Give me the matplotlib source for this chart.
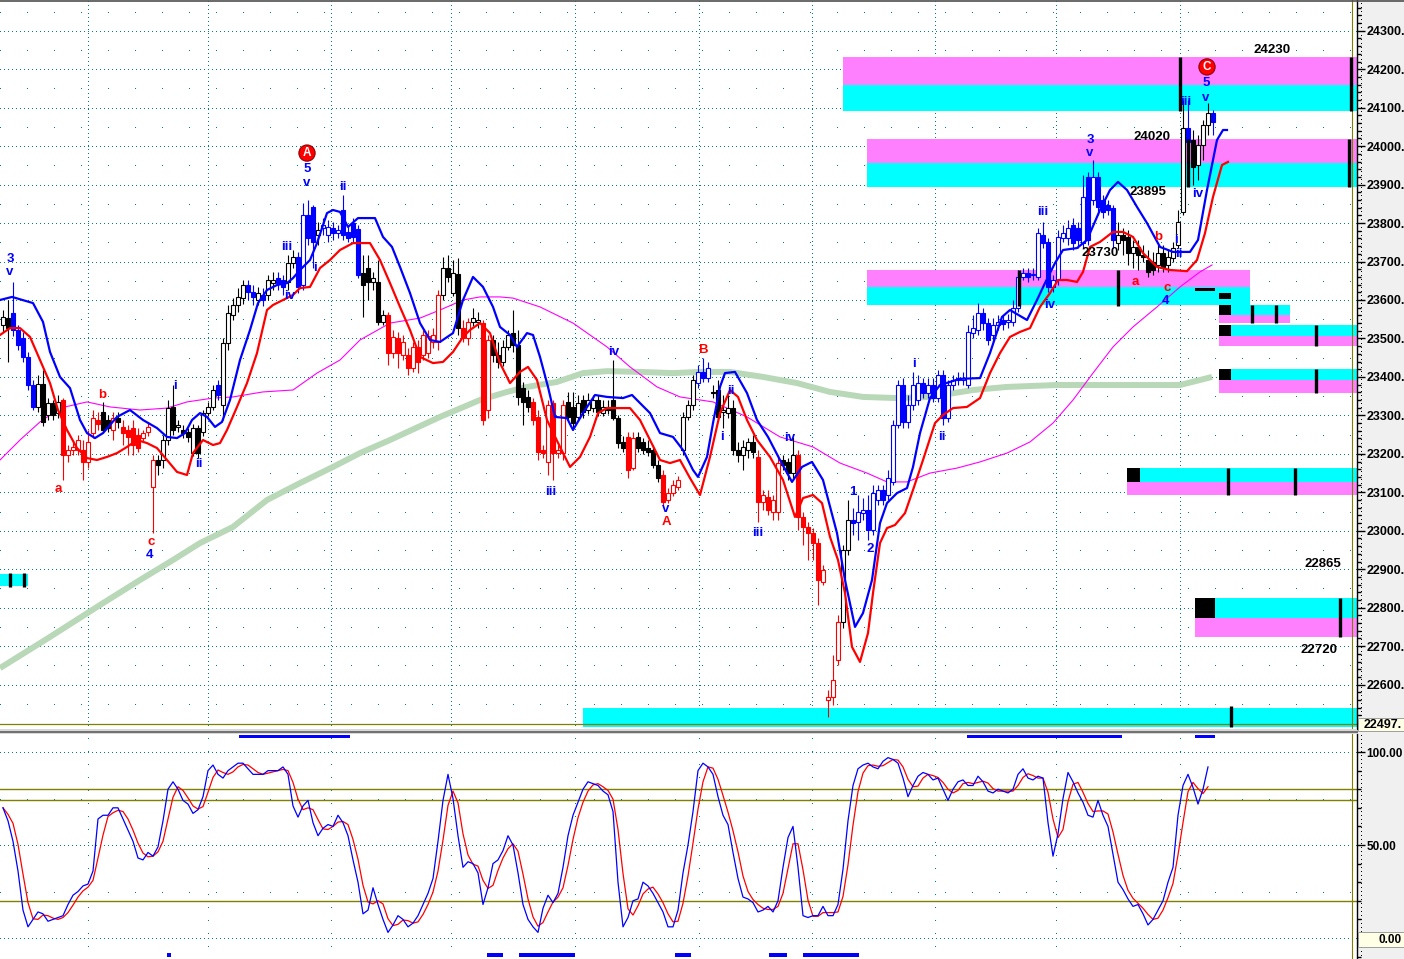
import matplotlib
matplotlib.use("Agg")
import numpy as np
import matplotlib.pyplot as plt
from matplotlib.patches import Rectangle
from matplotlib.lines import Line2D

plt.rcParams['font.family'] = ['Liberation Sans', 'DejaVu Sans']

# ---------------- data: candles (bar index 0..242) ----------------
opens = [23535,23553,23566,23522,23501,23452,23379,23322,23382,23301,23332,23306,23340,23197,23210,23210,23210,23179,23254,23288,
 23309,23288,23262,23293,23270,23262,23267,23249,23241,23257,23114,23184,23184,23236,23322,23270,23262,23257,23202,23267,
 23257,23306,23322,23379,23327,23488,23561,23587,23605,23639,23621,23600,23613,23613,23644,23657,23652,23647,23696,23712,
 23639,23821,23842,23769,23787,23769,23787,23774,23834,23777,23800,23785,23670,23683,23647,23647,23543,23561,23462,23501,
 23457,23457,23423,23478,23457,23462,23491,23491,23613,23683,23618,23668,23527,23501,23543,23543,23540,23314,23496,23457,
 23439,23478,23514,23483,23371,23348,23335,23296,23210,23179,23332,23202,23202,23335,23322,23296,23340,23314,23319,23340,
 23306,23322,23340,23293,23231,23244,23163,23244,23231,23215,23210,23171,23145,23080,23098,23114,23210,23296,23327,23384,
 23413,23397,23361,23366,23309,23306,23319,23210,23197,23210,23231,23192,23075,23088,23049,23049,23184,23179,23150,23197,
 23036,23010,22994,22968,22867,22560,22568,22664,22763,22950,23028,23023,23046,23054,23002,23080,23106,23093,23127,23275,
 23379,23283,23327,23340,23384,23358,23379,23345,23405,23293,23379,23392,23392,23379,23514,23522,23566,23540,23509,23535,
 23548,23543,23543,23579,23660,23670,23665,23660,23769,23751,23634,23652,23761,23761,23795,23787,23748,23920,23860,23920,
 23860,23847,23839,23748,23769,23764,23722,23738,23717,23704,23699,23691,23722,23691,23709,23743,23829,24047,24016,23951,
 24003,24055,24086]
closes = [23556,23527,23522,23483,23452,23379,23322,23382,23283,23332,23301,23335,23197,23210,23218,23236,23179,23231,23293,23278,
 23262,23267,23293,23283,23254,23244,23223,23215,23254,23270,23184,23171,23236,23319,23262,23275,23254,23244,23267,23202,
 23306,23322,23366,23353,23488,23566,23587,23608,23639,23621,23608,23618,23600,23652,23652,23644,23634,23696,23712,23634,
 23821,23761,23751,23782,23795,23790,23774,23782,23769,23761,23764,23665,23639,23647,23657,23543,23561,23462,23504,23462,
 23491,23423,23478,23439,23509,23506,23509,23613,23683,23660,23670,23527,23501,23543,23553,23548,23288,23496,23457,23439,
 23478,23509,23483,23348,23335,23322,23288,23205,23202,23327,23202,23210,23327,23296,23280,23332,23309,23340,23340,23309,
 23322,23314,23293,23228,23215,23158,23241,23215,23210,23205,23171,23137,23075,23098,23119,23132,23296,23327,23392,23413,
 23397,23423,23358,23296,23314,23319,23210,23197,23218,23231,23205,23075,23093,23054,23080,23176,23171,23150,23197,23036,
 23010,22994,22968,22872,22898,22568,22612,22763,22950,23028,23020,23049,23054,23002,23098,23106,23080,23137,23275,23379,
 23283,23327,23379,23384,23358,23379,23345,23405,23293,23379,23392,23397,23397,23517,23527,23566,23540,23496,23535,23543,
 23538,23548,23579,23660,23670,23660,23668,23774,23748,23634,23652,23764,23774,23787,23748,23756,23868,23756,23920,23842,
 23829,23834,23756,23769,23756,23722,23738,23717,23712,23673,23678,23722,23686,23712,23735,23803,24047,24011,23946,24003,
 24055,24086,24063]
highs = [23574,23600,23647,23535,23517,23465,23392,23405,23418,23345,23340,23353,23345,23223,23236,23249,23236,23262,23314,23309,
 23335,23301,23309,23309,23288,23275,23288,23267,23262,23283,23197,23197,23249,23340,23379,23288,23275,23267,23278,23275,
 23314,23335,23379,23392,23501,23587,23605,23631,23652,23652,23639,23634,23631,23665,23673,23673,23665,23717,23730,23725,
 23852,23860,23847,23803,23813,23808,23803,23795,23873,23795,23813,23795,23717,23717,23673,23704,23574,23569,23522,23517,
 23509,23475,23491,23496,23522,23522,23527,23626,23712,23717,23704,23709,23548,23553,23579,23569,23548,23509,23509,23491,
 23496,23522,23574,23522,23387,23366,23345,23314,23223,23340,23340,23223,23340,23361,23361,23353,23353,23358,23353,23353,
 23340,23340,23444,23301,23246,23257,23257,23257,23241,23236,23223,23184,23158,23111,23132,23142,23309,23340,23405,23431,
 23449,23439,23379,23392,23353,23353,23340,23231,23236,23241,23249,23210,23106,23106,23093,23197,23197,23189,23244,23210,
 23049,23023,23007,22981,22911,22586,22677,22781,22963,23080,23059,23093,23085,23093,23119,23119,23119,23158,23288,23392,
 23397,23353,23413,23405,23397,23397,23397,23418,23418,23392,23405,23413,23413,23535,23561,23592,23579,23553,23553,23561,
 23561,23564,23600,23678,23683,23683,23683,23787,23803,23761,23665,23782,23795,23808,23813,23803,23925,23933,23964,23933,
 23873,23860,23847,23803,23787,23782,23756,23756,23743,23730,23725,23743,23743,23730,23751,23834,24120,24120,24042,24029,
 24068,24112,24094]
lows = [23517,23439,23506,23470,23439,23366,23314,23309,23272,23288,23288,23293,23132,23179,23197,23197,23132,23163,23241,23262,
 23254,23257,23236,23267,23223,23197,23197,23205,23231,23246,22994,23145,23163,23223,23249,23257,23241,23231,23194,23189,
 23246,23298,23314,23340,23288,23470,23548,23569,23590,23600,23587,23587,23584,23600,23626,23626,23613,23626,23683,23618,
 23626,23743,23683,23743,23769,23751,23756,23761,23756,23751,23751,23657,23556,23600,23626,23535,23535,23431,23449,23423,
 23444,23405,23413,23410,23444,23449,23475,23470,23600,23647,23610,23509,23491,23483,23532,23527,23275,23293,23439,23423,
 23428,23470,23465,23327,23275,23309,23275,23184,23189,23145,23132,23189,23184,23288,23267,23288,23293,23304,23309,23298,
 23298,23304,23288,23215,23205,23137,23158,23205,23200,23194,23163,23127,23067,23072,23090,23106,23197,23288,23314,23371,
 23387,23387,23345,23288,23267,23293,23197,23179,23158,23189,23189,23023,23054,23041,23028,23028,23158,23132,23137,23002,
 22963,22924,22924,22807,22859,22516,22547,22651,22747,22937,22989,22976,23028,22976,22989,23067,23067,23080,23119,23267,
 23267,23267,23314,23327,23345,23345,23335,23335,23275,23283,23366,23379,23379,23371,23501,23509,23522,23483,23491,23522,
 23522,23527,23532,23569,23652,23647,23652,23652,23735,23621,23621,23639,23751,23743,23730,23735,23735,23743,23847,23821,
 23813,23821,23735,23730,23717,23691,23683,23678,23699,23660,23665,23673,23673,23673,23699,23735,23821,23990,23899,23912,
 23964,24029,24029]
# candle colour groups: (first bar, group)  k=plain, b=blue, r=red
color_runs = [(0,'k'),(2,'b'),(7,'k'),(12,'r'),(20,'k'),(22,'r'),(23,'k'),(24,'r'),(31,'k'),(43,'b'),(44,'k'),
              (49,'b'),(51,'k'),(52,'b'),(53,'k'),(55,'b'),(57,'k'),(59,'b'),(63,'k'),(64,'b'),(72,'k'),(77,'r'),
              (88,'k'),(92,'r'),(94,'k'),(96,'r'),(98,'k'),(106,'r'),(113,'k'),(125,'r'),(127,'k'),(132,'r'),
              (136,'k'),(139,'b'),(142,'k'),(151,'r'),(156,'k'),(159,'r'),(168,'k'),(170,'b'),(223,'k'),
              (237,'b'),(238,'k'),(242,'b')]

# ---------------- overlay lines ----------------
blue_bar = [-0.6,1.8,6.0,8.0,9.4,11.4,13.4,15.4,16.8,18.4,20.0,22.8,25.4,28.0,30.8,32.8,34.8,36.4,37.8,39.4,40.8,42.4,43.8,
            45.4,47.4,49.4,51.0,52.8,54.8,56.8,58.0,59.4,61.4,62.8,64.8,66.0,67.4,69.0,71.0,74.4,76.0,77.8,79.4,81.4,83.4,
            85.4,87.4,90.0,92.0,94.0,96.0,98.0,99.4,101.4,102.8,104.8,106.0,107.4,109.0,110.4,112.8,114.0,116.0,118.4,
            120.8,124.0,125.8,127.4,129.4,131.4,134.0,136.0,138.0,139.0,140.8,142.0,143.4,144.4,146.4,148.8,150.8,153.0,
            155.4,157.8,159.8,161.8,164.0,166.8,168.4,170.4,172.0,173.8,175.4,176.8,178.8,180.8,182.0,183.4,185.4,187.4,
            189.4,191.4,195.4,197.4,199.8,201.4,204.8,206.8,208.4,210.4,212.0,214.8,216.8,219.4,221.4,223.0,224.8,226.8,
            228.8,231.4,234.0,237.4,239.0,240.8,242.8,244.0,244.8]
blue_val = [23600,23608,23592,23543,23465,23400,23371,23288,23254,23241,23254,23296,23314,23288,23267,23244,23241,23254,23288,
            23306,23296,23270,23283,23340,23444,23522,23592,23626,23639,23644,23657,23678,23704,23748,23826,23834,23829,23790,
            23813,23813,23764,23738,23686,23618,23540,23496,23491,23514,23600,23660,23634,23582,23530,23509,23478,23514,23509,
            23452,23374,23296,23293,23262,23306,23353,23348,23345,23353,23332,23306,23254,23244,23210,23158,23140,23192,23280,
            23374,23410,23413,23358,23288,23244,23184,23127,23166,23179,23132,22994,22872,22750,22786,22872,23020,23072,23098,
            23111,23166,23254,23345,23379,23387,23395,23397,23462,23556,23574,23548,23600,23644,23696,23730,23735,23756,23834,
            23886,23907,23886,23842,23800,23738,23725,23725,23756,23886,24016,24042,24042]
red_bar = [-0.6,1.4,3.4,5.4,7.4,9.4,11.0,12.8,14.8,16.8,18.8,20.8,22.8,24.8,26.8,28.8,30.8,32.8,34.8,36.8,38.0,40.0,42.0,43.4,
           44.8,46.8,48.8,50.8,52.8,54.0,56.0,58.0,59.4,61.4,63.4,65.4,67.4,70.0,73.4,75.4,77.4,79.4,81.4,83.4,86.0,88.0,90.0,
           92.0,93.4,95.4,97.4,99.4,101.4,103.4,105.0,106.8,108.8,111.4,113.4,115.4,117.4,119.0,120.8,125.4,127.4,129.4,131.4,
           133.4,135.4,137.4,139.4,141.4,143.4,145.4,147.0,148.8,150.8,153.4,156.0,158.4,160.0,162.0,163.8,165.4,167.0,168.4,
           169.8,171.4,173.0,174.0,175.4,176.8,178.4,180.4,182.0,184.0,186.4,188.0,190.0,192.8,195.4,197.4,199.4,201.4,203.4,
           205.4,207.4,209.4,211.0,212.8,214.8,216.0,217.4,219.4,222.0,224.0,226.0,228.0,230.8,233.4,236.8,238.8,240.4,242.0,
           243.8,245.0]
red_val = [23509,23527,23527,23504,23444,23384,23314,23262,23215,23189,23184,23192,23202,23218,23236,23228,23215,23184,23153,
           23145,23202,23236,23223,23228,23262,23322,23384,23462,23574,23587,23600,23613,23631,23634,23683,23704,23730,23748,
           23748,23704,23644,23582,23522,23452,23436,23439,23465,23504,23522,23540,23514,23436,23384,23413,23426,23392,23288,
           23218,23166,23192,23244,23306,23319,23319,23288,23236,23184,23176,23184,23137,23093,23192,23306,23366,23348,23288,
           23236,23192,23132,23036,23085,23093,23072,22984,22924,22838,22698,22659,22734,22838,22968,23007,23015,23046,23106,
           23184,23280,23301,23319,23322,23345,23410,23462,23504,23517,23527,23582,23618,23652,23652,23647,23673,23738,23751,
           23777,23777,23764,23722,23686,23678,23675,23704,23774,23868,23951,23959]
ma50_bar = [-0.6,3.4,7.4,11.4,16.8,21.4,27.4,32.8,36.8,42.0,46.0,52.0,58.0,62.8,67.4,71.4,77.4,83.4,87.4,92.0,95.4,99.4,102.0,
            107.4,114.0,120.8,125.4,130.8,135.4,142.0,148.8,155.4,162.0,167.4,172.8,176.8,180.8,185.4,190.8,195.4,200.8,205.4,
            210.0,214.0,218.0,222.0,226.0,230.8,235.4,239.4,241.8]
ma50_val = [23184,23236,23283,23319,23335,23322,23314,23319,23335,23345,23348,23361,23366,23410,23444,23496,23540,23553,23574,
            23600,23608,23608,23605,23582,23540,23478,23426,23374,23348,23335,23296,23244,23218,23176,23150,23127,23127,23150,
            23163,23179,23202,23231,23280,23340,23410,23478,23530,23582,23634,23673,23691]
ma200_bar = [-0.6,9.4,19.4,27.4,34.0,39.4,46.0,52.8,59.4,66.0,71.4,77.4,87.4,95.4,100.8,104.8,110.8,116.0,120.8,127.4,134.0,
             139.4,145.4,152.0,158.8,165.4,172.0,178.8,185.4,194.0,200.8,210.8,220.8,227.4,235.4,239.4,241.8]
ma200_val = [22643,22724,22807,22872,22924,22968,23010,23080,23124,23166,23202,23236,23296,23340,23361,23374,23387,23410,23415,
             23413,23410,23413,23413,23400,23384,23361,23348,23345,23348,23366,23374,23379,23379,23379,23379,23392,23400]

# ---------------- stochastic %K (bar 0..241) ----------------
stoch_k = [70,63,52,36,15,6,10,14,13,9,10,11,12,18,23,25,28,29,36,64,66,66,70,70,64,58,52,43,42,46,44,49,63,80,84,80,74,72,67,69,
           76,90,93,88,86,90,92,94,94,91,88,88,88,90,90,90,92,88,71,65,71,74,62,55,59,61,60,66,62,55,42,30,13,15,27,18,10,3,7,12,
           10,6,8,12,18,24,32,52,74,88,75,55,38,41,40,35,18,27,40,42,47,55,50,35,18,10,6,3,16,23,19,24,38,55,66,73,80,84,83,82,
           79,77,68,30,6,11,20,21,30,28,24,19,14,6,6,15,35,50,68,90,94,92,88,76,66,61,46,32,22,21,19,14,15,17,14,20,38,54,60,38,
           12,11,12,12,17,12,12,18,37,63,82,91,93,94,92,91,95,97,96,94,86,76,82,87,89,88,85,86,80,74,80,84,85,82,82,87,84,79,78,80,
           79,78,80,88,91,86,85,87,86,62,44,56,75,89,84,78,73,66,65,74,66,60,45,30,26,21,17,18,13,7,10,15,20,30,38,66,82,88,81,72,
           80,92]
stoch_levels = [80, 74, 20]

# ---------------- zones ----------------
zone_x0 = [168.0, 172.8, 172.8, 243.2, 243.2, 243.2, 224.8, 238.4, 116.0, -0.6]
zone_x1 = [272.0, 272.0, 249.4, 257.4, 272.0, 272.0, 272.0, 272.0, 272.0, 5.0]
zone_hi = [24232, 24019, 23678, 23587, 23535, 23421, 23163, 22825, 22539, 22888]
zone_mid = [24159, 23956, 23634, 23561, 23506, 23392, 23127, 22773, 22490, 22856]
zone_lo = [24091, 23894, 23587, 23540, 23480, 23358, 23093, 22724, 22490, 22856]
zone_top = ['m', 'm', 'm', 'c', 'c', 'c', 'c', 'c', 'c', 'c']

marker_bar = [203.2, 223.0, 235.4, 237.0, 269.2, 269.6, 249.8, 254.6, 262.6, 262.6, 245.0, 258.4, 267.4, 245.6, 1.4, 4.2]
marker_lo = [23585, 23585, 24091, 23894, 23894, 24091, 23540, 23540, 23480, 23358, 23093, 23093, 22724, 22490, 22853, 22853]
marker_hi = [23678, 23678, 24232, 24019, 24019, 24232, 23587, 23587, 23535, 23421, 23163, 23163, 22825, 22545, 22891, 22891]

box_x0 = [238.4, 243.2, 243.2, 243.2, 243.2, 224.8, 238.4]
box_x1 = [242.4, 245.6, 245.6, 245.6, 245.6, 227.4, 242.4]
box_lo = [23623, 23603, 23561, 23506, 23392, 23127, 22773]
box_hi = [23631, 23618, 23587, 23535, 23421, 23163, 22825]

level_text = ['24230', '24020', '23895', '23730', '22865', '22720']
level_bar = [253.8, 229.8, 229.0, 219.4, 264.0, 263.2]
level_val = [24250, 24024, 23881, 23722, 22914, 22690]

wave_text = ['3','v','4','i','ii','5','v','ii','iii','i','iv','iii','iv','v','ii','i','iii','iv','1','2','i','ii','iii','iv',
             '3','v','4','i','ii','iii','iv','5','v',
             'a','b','c','B','A','a','b','c']
wave_bar = [1.4,1.4,29.4,34.4,39.2,60.8,60.8,68.0,56.8,62.4,57.4,109.6,122.2,132.6,145.6,143.8,151.0,157.4,170.0,173.4,182.2,
            187.8,208.0,209.4,217.4,217.4,232.6,234.6,235.2,236.6,239.0,240.6,240.6,
            11.0,19.8,29.6,140.0,132.6,226.4,231.0,232.8]
wave_val = [23707,23673,22937,23376,23174,23941,23904,23894,23738,23683,23610,23101,23465,23057,23363,23244,22994,23241,23101,
            22953,23434,23244,23829,23587,24016,23982,23597,23756,23720,24115,23876,24164,24125,
            23109,23353,22971,23470,23023,23647,23764,23631]
wave_color = ['b'] * 33 + ['r'] * 8
circle_text = ['A', 'C']
circle_bar = [60.8, 240.8]
circle_val = [23982, 24206]

osc_top_x0 = [47.2, 192.8, 238.4]
osc_top_x1 = [69.4, 223.8, 242.4]
osc_bot_x0 = [32.8, 96.8, 103.2, 134.4, 153.2, 160.0]
osc_bot_x1 = [33.6, 100.0, 114.4, 137.6, 156.8, 171.2]

vgrid_bars = [17.0, 41.0, 65.6, 89.6, 114.4, 139.2, 161.8, 186.4, 210.6, 235.4]
cursor_bar = 269.8
last_price = 22497

# ---------------- figure ----------------
W, H = 1404, 959
fig = plt.figure(figsize=(W / 100, H / 100), dpi=100)
fig.patch.set_facecolor('white')

def fr(x0, y0, x1, y1):
    return [x0 / W, 1 - y1 / H, (x1 - x0) / W, (y1 - y0) / H]

fig.add_artist(Rectangle((1357 / W, 0), (W - 1357) / W, 1, transform=fig.transFigure,
                         fc='#f0f0f0', ec='none', zorder=-10))
ax = fig.add_axes(fr(0, 0, 1357, 729))
ax2 = fig.add_axes(fr(0, 734, 1357, 959))
XL = (-0.6, 270.8)
for a in (ax, ax2):
    a.set_xlim(*XL)
    a.set_facecolor('white')
    for s in ('top', 'left', 'bottom'):
        a.spines[s].set_visible(False)
    a.spines['right'].set_color('black')
    a.spines['right'].set_linewidth(1.0)
    a.tick_params(axis='x', bottom=False, labelbottom=False)
    a.yaxis.set_ticks_position('right')
ax.set_ylim(22484.6, 24380)
ax2.set_ylim(-11.3, 109.7)

TEAL = '#008080'
OLIVE = '#808000'
DOT = (0, (1, 3))
SPARSE = (0, (1, 27))
LWD = 0.72
GK = dict(color=TEAL, lw=LWD, zorder=0.5, antialiased=False)

# grid main
ticks = list(range(22600, 24301, 100))
for t in ticks:
    ax.axhline(t, ls=DOT, **GK)
for t in range(22550, 24351, 100):
    ax.axhline(t, ls=SPARSE, **GK)
for v in vgrid_bars:
    ax.axvline(v, ls=DOT, **GK)
    ax2.axvline(v, ls=(0, (1, 12)), **GK)
for t in (0, 50, 100):
    ax2.axhline(t, ls=DOT, **GK)
for t in (25, 75):
    ax2.axhline(t, ls=SPARSE, **GK)

# zones
CMAP = {'m': '#ff80ff', 'c': '#00ffff'}
for x0, x1, hi, mid, lo, top in zip(zone_x0, zone_x1, zone_hi, zone_mid, zone_lo, zone_top):
    bottom_c = 'c' if top == 'm' else 'm'
    ax.add_patch(Rectangle((x0, mid), x1 - x0, hi - mid, fc=CMAP[top], ec='none', zorder=1))
    if lo < mid:
        ax.add_patch(Rectangle((x0, lo), x1 - x0, mid - lo, fc=CMAP[bottom_c], ec='none', zorder=1))

# moving averages
ax.plot(ma200_bar, ma200_val, color='#b8d8b8', lw=4.3, solid_capstyle='butt', zorder=1.5)
ax.plot(ma50_bar, ma50_val, color='#ff00ff', lw=0.8, zorder=1.6)

# candles
CC = {'k': '#000000', 'b': '#0000ff', 'r': '#ff0000'}
n = min(len(opens), len(closes), len(highs), len(lows))
groups = []
runs = color_runs + [(n, None)]
for (s, g), (e, _) in zip(runs[:-1], runs[1:]):
    groups += [g] * (e - s)
for i in range(n):
    o, h, l, c = opens[i], highs[i], lows[i], closes[i]
    col = CC[groups[i]]
    top, bot = max(o, c), min(o, c)
    if top - bot < 3:
        top = bot + 3
    ax.vlines(i, top, max(h, top), color=col, lw=0.8, zorder=3)
    ax.vlines(i, min(l, bot), bot, color=col, lw=0.8, zorder=3)
    fc = col if c < o else 'white'
    ax.add_patch(Rectangle((i - 0.36, bot), 0.72, top - bot, fc=fc, ec=col, lw=0.8, zorder=3.2))

# displaced averages
ax.plot(red_bar, red_val, color='#ff0000', lw=1.6, zorder=4)
ax.plot(blue_bar, blue_val, color='#0000ff', lw=1.6, zorder=4.1)

# markers and boxes
for xb, lo, hi in zip(marker_bar, marker_lo, marker_hi):
    ax.vlines(xb, lo, hi, color='black', lw=2.4, zorder=4.5)
for x0, x1, lo, hi in zip(box_x0, box_x1, box_lo, box_hi):
    ax.add_patch(Rectangle((x0, lo), x1 - x0, hi - lo, fc='black', ec='none', zorder=4.5))

ax.axhline(last_price, color=OLIVE, lw=0.9, zorder=2)
ax.axvline(cursor_bar, color=OLIVE, lw=0.8, zorder=2)
ax2.axvline(cursor_bar, color=OLIVE, lw=0.8, zorder=2)

# labels
FB = dict(fontweight='bold', ha='center', va='center', zorder=6)
for t, xb, v in zip(level_text, level_bar, level_val):
    ax.text(xb, v, t, color='black', fontsize=9.5, **FB)
for t, xb, v, c in zip(wave_text, wave_bar, wave_val, wave_color):
    ax.text(xb, v, t, color=CC[c], fontsize=9.5, **FB)
for t, xb, v in zip(circle_text, circle_bar, circle_val):
    ax.text(xb, v, t, color='white', fontsize=8.5,
            bbox=dict(boxstyle='circle,pad=0.18', fc='#ff0000', ec='#900000', lw=0.8), **FB)

# price axis
ax.set_yticks(ticks, labels=[f'{t}.' for t in ticks], fontsize=9, fontweight='bold')
ax.set_yticks(list(range(22500, 24380, 20)), minor=True)
ax.tick_params(axis='y', which='major', direction='out', length=6, width=1, pad=1, colors='black')
ax.tick_params(axis='y', which='minor', direction='out', length=3, width=1, colors='black')

# oscillator
k = np.array(stoch_k, dtype=float)
d = np.array([k[max(0, i - 2):i + 1].mean() for i in range(len(k))])
xb = np.arange(len(k))
for lvl in stoch_levels:
    ax2.axhline(lvl, color=OLIVE, lw=1.0, zorder=1)
ax2.plot(xb, d, color='#ff0000', lw=0.9, zorder=3)
ax2.plot(xb, k, color='#0000ff', lw=0.9, zorder=3.1)
tr = ax2.get_xaxis_transform()
for x0, x1 in zip(osc_top_x0, osc_top_x1):
    ax2.add_patch(Rectangle((x0, 0.982), x1 - x0, 0.0135, transform=tr, fc='#0000ff', ec='none', zorder=4))
for x0, x1 in zip(osc_bot_x0, osc_bot_x1):
    ax2.add_patch(Rectangle((x0, 0.009), x1 - x0, 0.018, transform=tr, fc='#0000ff', ec='none', zorder=4))
ax2.set_yticks([50, 100], labels=['50.00', '100.00'], fontsize=8.5, fontweight='bold')
ax2.set_yticks(list(range(-10, 110, 10)), minor=True)
ax2.tick_params(axis='y', which='major', direction='out', length=6, width=1, pad=1, colors='black')
ax2.tick_params(axis='y', which='minor', direction='out', length=3, width=1, colors='black')

# frame decorations
fig.add_artist(Rectangle((0, 1 - 734 / H), 1357 / W, 5 / H, transform=fig.transFigure,
                         fc='#d8d8d8', ec='none', zorder=5))
fig.add_artist(Line2D([0, 1357 / W], [1 - 731.5 / H] * 2, transform=fig.transFigure, color='#707070', lw=1.4, zorder=6))
fig.add_artist(Line2D([0, 1], [1 - 0.5 / H] * 2, transform=fig.transFigure, color='#505050', lw=1.2, zorder=6))
fig.add_artist(Line2D([1360.5 / W] * 2, [0, 1], transform=fig.transFigure, color='black', lw=0.72, ls=DOT,
                      antialiased=False, zorder=6))
fig.add_artist(Rectangle((1358 / W, 1 - 731 / H), 46 / W, 13 / H, transform=fig.transFigure,
                         fc='#ffffe6', ec='#909090', lw=0.6, zorder=7))
fig.text(1364 / W, 1 - 724.5 / H, f'{last_price}.', fontsize=9, fontweight='bold', va='center', ha='left', zorder=8)
fig.add_artist(Rectangle((1358 / W, 1 - 947 / H), 46 / W, 15 / H, transform=fig.transFigure,
                         fc='#ffffe6', ec='#909090', lw=0.6, zorder=7))
fig.text(1402 / W, 1 - 940 / H, '0.00', fontsize=8.5, fontweight='bold', va='center', ha='right', zorder=8)

fig.savefig('out.png', dpi=100)
